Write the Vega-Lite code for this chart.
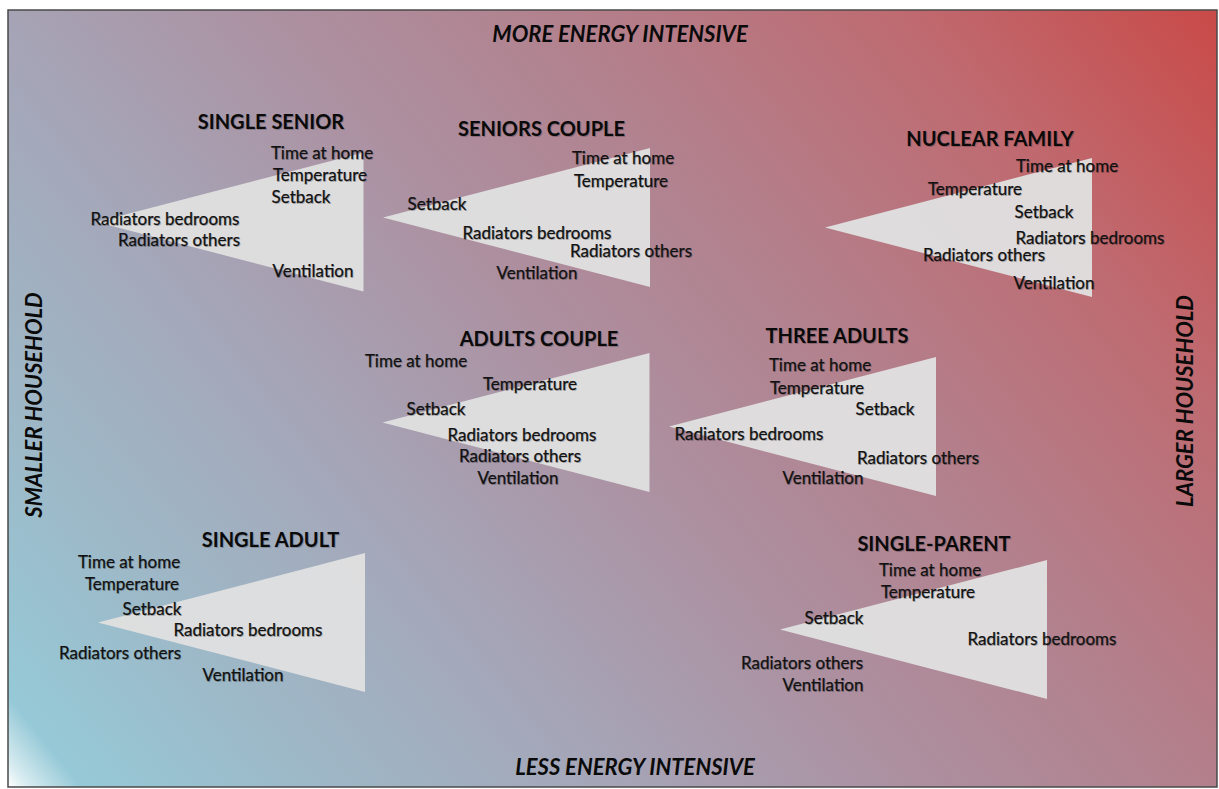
{
  "$schema": "https://vega.github.io/schema/vega-lite/v6.json",
  "width": 1219,
  "height": 789,
  "padding": 0,
  "autosize": {"type": "fit", "contains": "padding"},
  "background": "#ffffff",
  "config": {"view": {"stroke": null}},
  "datasets": {
    "frame": [{"x": 8, "x2": 1217, "y": 10, "y2": 787}],
    "triangles": [
      {"household": "SINGLE SENIOR", "cx": 230, "cy": 222},
      {"household": "SENIORS COUPLE", "cx": 516.5, "cy": 217.5},
      {"household": "NUCLEAR FAMILY", "cx": 958.5, "cy": 227.5},
      {"household": "ADULTS COUPLE", "cx": 516, "cy": 422.5},
      {"household": "THREE ADULTS", "cx": 802.5, "cy": 426.5},
      {"household": "SINGLE ADULT", "cx": 231.5, "cy": 622.5},
      {"household": "SINGLE-PARENT", "cx": 913.5, "cy": 629.5}
    ],
    "titles": [
      {"text": "SINGLE SENIOR", "x": 271, "y": 121},
      {"text": "SENIORS COUPLE", "x": 541.5, "y": 128},
      {"text": "NUCLEAR FAMILY", "x": 990, "y": 138},
      {"text": "ADULTS COUPLE", "x": 539, "y": 338},
      {"text": "THREE ADULTS", "x": 837, "y": 335},
      {"text": "SINGLE ADULT", "x": 270.5, "y": 539},
      {"text": "SINGLE-PARENT", "x": 934, "y": 543}
    ],
    "items": [
      {"household": "SINGLE SENIOR", "text": "Time at home", "x": 322, "y": 152},
      {"household": "SINGLE SENIOR", "text": "Temperature", "x": 320, "y": 174},
      {"household": "SINGLE SENIOR", "text": "Setback", "x": 301, "y": 196},
      {"household": "SINGLE SENIOR", "text": "Radiators bedrooms", "x": 165, "y": 218},
      {"household": "SINGLE SENIOR", "text": "Radiators others", "x": 179, "y": 239},
      {"household": "SINGLE SENIOR", "text": "Ventilation", "x": 313, "y": 270},
      {"household": "SENIORS COUPLE", "text": "Time at home", "x": 623, "y": 157},
      {"household": "SENIORS COUPLE", "text": "Temperature", "x": 621, "y": 180},
      {"household": "SENIORS COUPLE", "text": "Setback", "x": 437, "y": 203},
      {"household": "SENIORS COUPLE", "text": "Radiators bedrooms", "x": 537, "y": 232},
      {"household": "SENIORS COUPLE", "text": "Radiators others", "x": 631, "y": 250},
      {"household": "SENIORS COUPLE", "text": "Ventilation", "x": 537, "y": 272},
      {"household": "NUCLEAR FAMILY", "text": "Time at home", "x": 1067, "y": 165},
      {"household": "NUCLEAR FAMILY", "text": "Temperature", "x": 975, "y": 188},
      {"household": "NUCLEAR FAMILY", "text": "Setback", "x": 1044, "y": 211},
      {"household": "NUCLEAR FAMILY", "text": "Radiators bedrooms", "x": 1090, "y": 237},
      {"household": "NUCLEAR FAMILY", "text": "Radiators others", "x": 984, "y": 254},
      {"household": "NUCLEAR FAMILY", "text": "Ventilation", "x": 1054, "y": 282},
      {"household": "ADULTS COUPLE", "text": "Time at home", "x": 416, "y": 360},
      {"household": "ADULTS COUPLE", "text": "Temperature", "x": 530, "y": 383},
      {"household": "ADULTS COUPLE", "text": "Setback", "x": 436, "y": 408},
      {"household": "ADULTS COUPLE", "text": "Radiators bedrooms", "x": 522, "y": 434},
      {"household": "ADULTS COUPLE", "text": "Radiators others", "x": 520, "y": 455},
      {"household": "ADULTS COUPLE", "text": "Ventilation", "x": 518, "y": 477},
      {"household": "THREE ADULTS", "text": "Time at home", "x": 820, "y": 364},
      {"household": "THREE ADULTS", "text": "Temperature", "x": 817, "y": 387},
      {"household": "THREE ADULTS", "text": "Setback", "x": 885, "y": 408},
      {"household": "THREE ADULTS", "text": "Radiators bedrooms", "x": 749, "y": 433},
      {"household": "THREE ADULTS", "text": "Radiators others", "x": 918, "y": 457},
      {"household": "THREE ADULTS", "text": "Ventilation", "x": 823, "y": 477},
      {"household": "SINGLE ADULT", "text": "Time at home", "x": 129, "y": 561},
      {"household": "SINGLE ADULT", "text": "Temperature", "x": 132, "y": 583},
      {"household": "SINGLE ADULT", "text": "Setback", "x": 152, "y": 608},
      {"household": "SINGLE ADULT", "text": "Radiators bedrooms", "x": 248, "y": 629},
      {"household": "SINGLE ADULT", "text": "Radiators others", "x": 120, "y": 652},
      {"household": "SINGLE ADULT", "text": "Ventilation", "x": 243, "y": 674},
      {"household": "SINGLE-PARENT", "text": "Time at home", "x": 930, "y": 569},
      {"household": "SINGLE-PARENT", "text": "Temperature", "x": 928, "y": 591},
      {"household": "SINGLE-PARENT", "text": "Setback", "x": 834, "y": 617},
      {"household": "SINGLE-PARENT", "text": "Radiators bedrooms", "x": 1042, "y": 638},
      {"household": "SINGLE-PARENT", "text": "Radiators others", "x": 802, "y": 662},
      {"household": "SINGLE-PARENT", "text": "Ventilation", "x": 823, "y": 684}
    ],
    "edgesH": [
      {"text": "MORE ENERGY INTENSIVE", "x": 620, "y": 33},
      {"text": "LESS ENERGY INTENSIVE", "x": 635, "y": 766}
    ],
    "edgesV": [
      {"text": "SMALLER HOUSEHOLD", "x": 35, "y": 407},
      {"text": "LARGER HOUSEHOLD", "x": 1186, "y": 403}
    ]
  },
  "layer": [
    {
      "data": {"name": "frame"},
      "mark": {
        "type": "rect",
        "fill": {
          "gradient": "linear",
          "x1": 0, "y1": 1, "x2": 1.196, "y2": 0.375,
          "stops": [
            {"offset": 0, "color": "#ffffff"},
            {"offset": 0.012, "color": "#d6ebf0"},
            {"offset": 0.04, "color": "#96c9d7"},
            {"offset": 0.16, "color": "#9db9c8"},
            {"offset": 0.33, "color": "#a5a5b7"},
            {"offset": 0.5, "color": "#ad8f9f"},
            {"offset": 0.66, "color": "#b37f8b"},
            {"offset": 0.83, "color": "#bf6a70"},
            {"offset": 1, "color": "#c94a48"}
          ]
        },
        "stroke": "#4a4a4a",
        "strokeWidth": 1.5
      },
      "encoding": {
        "x": {"field": "x", "type": "quantitative", "scale": {"domain": [0, 1219], "nice": false, "zero": false}, "axis": null},
        "x2": {"field": "x2"},
        "y": {"field": "y", "type": "quantitative", "scale": {"domain": [789, 0], "nice": false, "zero": false}, "axis": null},
        "y2": {"field": "y2"}
      }
    },
    {
      "data": {"name": "triangles"},
      "mark": {
        "type": "point",
        "shape": "M1,-0.52L-1,0L1,0.52Z",
        "size": 71289,
        "filled": true,
        "color": "#e0e0e0",
        "opacity": 0.96,
        "strokeWidth": 0
      },
      "encoding": {
        "x": {"field": "cx", "type": "quantitative", "scale": {"domain": [0, 1219], "nice": false, "zero": false}, "axis": null},
        "y": {"field": "cy", "type": "quantitative", "scale": {"domain": [789, 0], "nice": false, "zero": false}, "axis": null}
      }
    },
    {
      "data": {"name": "items"},
      "mark": {"type": "text", "font": "Lato", "fontSize": 17, "color": "#000000", "opacity": 0.2, "align": "center", "baseline": "middle", "dx": 1, "dy": 3},
      "encoding": {
        "x": {"field": "x", "type": "quantitative", "scale": {"domain": [0, 1219], "nice": false, "zero": false}, "axis": null},
        "y": {"field": "y", "type": "quantitative", "scale": {"domain": [789, 0], "nice": false, "zero": false}, "axis": null},
        "text": {"field": "text"}
      }
    },
    {
      "data": {"name": "items"},
      "mark": {"type": "text", "font": "Lato", "fontSize": 17, "color": "#111111", "align": "center", "baseline": "middle", "dy": 2, "stroke": "#111111", "strokeWidth": 0.25},
      "encoding": {
        "x": {"field": "x", "type": "quantitative", "scale": {"domain": [0, 1219], "nice": false, "zero": false}, "axis": null},
        "y": {"field": "y", "type": "quantitative", "scale": {"domain": [789, 0], "nice": false, "zero": false}, "axis": null},
        "text": {"field": "text"}
      }
    },
    {
      "data": {"name": "titles"},
      "mark": {"type": "text", "font": "Lato", "fontSize": 20, "fontWeight": "bold", "color": "#000000", "opacity": 0.2, "align": "center", "baseline": "middle", "dx": 1, "dy": 3},
      "encoding": {
        "x": {"field": "x", "type": "quantitative", "scale": {"domain": [0, 1219], "nice": false, "zero": false}, "axis": null},
        "y": {"field": "y", "type": "quantitative", "scale": {"domain": [789, 0], "nice": false, "zero": false}, "axis": null},
        "text": {"field": "text"}
      }
    },
    {
      "data": {"name": "titles"},
      "mark": {"type": "text", "font": "Lato", "fontSize": 20, "fontWeight": "bold", "color": "#0a0a0a", "align": "center", "baseline": "middle", "dy": 2},
      "encoding": {
        "x": {"field": "x", "type": "quantitative", "scale": {"domain": [0, 1219], "nice": false, "zero": false}, "axis": null},
        "y": {"field": "y", "type": "quantitative", "scale": {"domain": [789, 0], "nice": false, "zero": false}, "axis": null},
        "text": {"field": "text"}
      }
    },
    {
      "data": {"name": "edgesH"},
      "mark": {"type": "text", "font": "Lato", "fontSize": 22, "fontWeight": "bold", "fontStyle": "italic", "color": "#0a0a0a", "align": "center", "baseline": "middle", "dy": 2},
      "encoding": {
        "x": {"field": "x", "type": "quantitative", "scale": {"domain": [0, 1219], "nice": false, "zero": false}, "axis": null},
        "y": {"field": "y", "type": "quantitative", "scale": {"domain": [789, 0], "nice": false, "zero": false}, "axis": null},
        "text": {"field": "text"}
      }
    },
    {
      "data": {"name": "edgesV"},
      "mark": {"type": "text", "font": "Lato", "fontSize": 22, "fontWeight": "bold", "fontStyle": "italic", "color": "#0a0a0a", "align": "center", "baseline": "middle", "angle": 270, "dx": 2},
      "encoding": {
        "x": {"field": "x", "type": "quantitative", "scale": {"domain": [0, 1219], "nice": false, "zero": false}, "axis": null},
        "y": {"field": "y", "type": "quantitative", "scale": {"domain": [789, 0], "nice": false, "zero": false}, "axis": null},
        "text": {"field": "text"}
      }
    }
  ]
}
